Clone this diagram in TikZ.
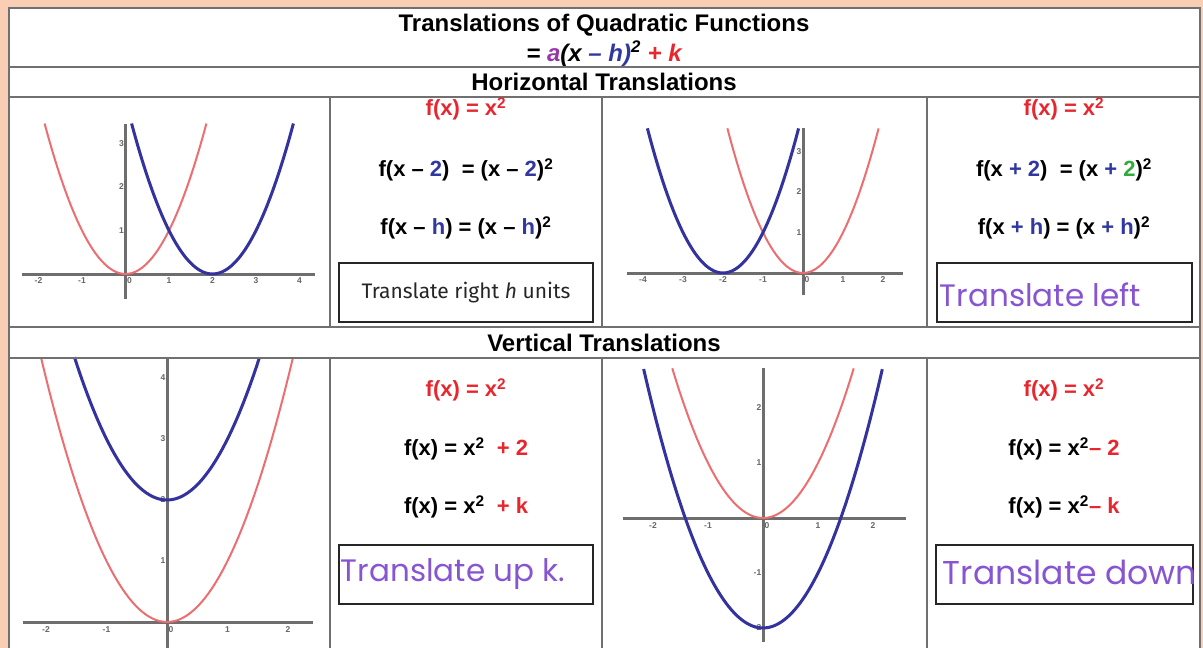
\documentclass[tikz,border=0pt]{standalone}
\usepackage{xcolor}
\usepackage{fontspec}
\setmainfont{Liberation Sans}
\newfontfamily\boxfont{Fira Sans}
\newfontfamily\handfont{Poppins}
\usepackage{tikz}
\usetikzlibrary{positioning}
\definecolor{peach}{RGB}{250,206,180}
\definecolor{gridgray}{RGB}{112,112,112}
\definecolor{axisgray}{RGB}{110,110,110}
\definecolor{fred}{RGB}{232,38,45}
\definecolor{fblue}{RGB}{48,56,160}
\definecolor{fgreen}{RGB}{50,170,60}
\definecolor{fpurple}{RGB}{150,55,170}
\definecolor{handpurple}{RGB}{135,85,210}
\definecolor{curvered}{RGB}{236,110,112}
\definecolor{curveblue}{RGB}{52,50,158}
\newcommand{\sq}{\textsuperscript{2}}
\tikzset{
  gridline/.style={draw=gridgray, line width=2.4pt},
  heading/.style={font=\fontsize{24}{26}\selectfont\bfseries, inner sep=0pt},
  formula/.style={font=\fontsize{22}{24}\selectfont\bfseries, inner sep=0pt},
  notebox/.style={draw=black!85, line width=2.6pt, minimum width=254pt,
    minimum height=59pt, inner sep=0pt},
  typed/.style={font=\boxfont\fontsize{21}{24}\selectfont, text=black!85, inner sep=0pt},
  hand/.style={font=\handfont\fontsize{31}{34}\selectfont, text=handpurple, inner sep=0pt},
  axisline/.style={draw=axisgray, line width=3pt},
  ticklbl/.style={font=\fontsize{8.5}{9}\selectfont\bfseries, text=black!60, inner sep=1.5pt},
  redcurve/.style={draw=curvered, line width=2pt, samples=60, smooth},
  bluecurve/.style={draw=curveblue, line width=3pt, samples=60, smooth}
}

\begin{document}
\begin{tikzpicture}[x=1pt, y=-1pt]
  \useasboundingbox (0,0) rectangle (1203,648);
  \fill[peach] (0,0) rectangle (1203,648);
  \fill[white] (9,8) rectangle (1200,660);

  % graph origins
  \coordinate (og1) at (125.5,274);
  \coordinate (og2) at (803,273);
  \coordinate (og3) at (167,622);
  \coordinate (og4) at (763,518);

  % axes
  \draw[axisline] (22,274) -- (315,274);
  \draw[axisline] (125.5,124) -- (125.5,299);
  \draw[axisline] (627,273) -- (903,273);
  \draw[axisline] (803,128) -- (803,295);
  \draw[axisline] (23,622) -- (313,622);
  \draw[axisline] (167,358) -- (167,660);
  \draw[axisline] (623,518) -- (906,518);
  \draw[axisline] (763,368) -- (763,642);

  % horizontal translations: graphs
  \begin{scope}[shift={(og1)}, x=43.5pt, y=43.5pt]
    \foreach \t in {-2,-1,1,2,3,4} \node[ticklbl, below] at (\t,-0.05) {\t};
    \node[ticklbl, below right] at (0,-0.05) {0};
    \foreach \t in {1,2,3} \node[ticklbl, left] at (0,\t) {\t};
    \draw[redcurve, domain=-1.86:1.86] plot (\x,{\x*\x});
    \draw[bluecurve, domain=0.14:3.86] plot (\x,{(\x-2)*(\x-2)});
  \end{scope}
  \begin{scope}[shift={(og2)}, x=40pt, y=40.5pt]
    \foreach \t in {-4,-3,-2,-1,1,2} \node[ticklbl, below] at (\t,-0.05) {\t};
    \node[ticklbl, below right] at (0,-0.05) {0};
    \foreach \t in {1,2,3} \node[ticklbl, left] at (0,\t) {\t};
    \draw[redcurve, domain=-1.89:1.89] plot (\x,{\x*\x});
    \draw[bluecurve, domain=-3.89:-0.11] plot (\x,{(\x+2)*(\x+2)});
  \end{scope}

  % vertical translations: graphs
  \begin{scope}[shift={(og3)}, x=60.5pt, y=61pt]
    \foreach \t in {-2,-1,1,2} \node[ticklbl, below] at (\t,-0.05) {\t};
    \node[ticklbl, below right] at (0,-0.05) {0};
    \foreach \t in {1,2,3,4} \node[ticklbl, left] at (0,\t) {\t};
    \draw[redcurve, domain=-2.08:2.08] plot (\x,{\x*\x});
    \draw[bluecurve, domain=-1.53:1.53] plot (\x,{\x*\x+2});
  \end{scope}
  \begin{scope}[shift={(og4)}, x=55pt, y=55pt]
    \foreach \t in {-2,-1,1,2} \node[ticklbl, below] at (\t,-0.05) {\t};
    \node[ticklbl, below right] at (0,-0.05) {0};
    \foreach \t in {-2,-1,1,2} \node[ticklbl, left] at (0,\t) {\t};
    \draw[redcurve, domain=-1.65:1.65] plot (\x,{\x*\x});
    \draw[bluecurve, domain=-2.17:2.17] plot (\x,{\x*\x-2});
  \end{scope}

  % table rules
  \draw[gridline] (9,660) -- (9,8) -- (1200,8) -- (1200,660);
  \foreach \ry in {67,97,327,358} \draw[gridline] (9,\ry) -- (1200,\ry);
  \foreach \cx in {330,602,927} {
    \draw[gridline] (\cx,97) -- (\cx,327);
    \draw[gridline] (\cx,358) -- (\cx,660);
  }

  % headings
  \node[heading] (title) at (604,25) {Translations of Quadratic Functions};
  \node[heading, below=4pt of title, font=\fontsize{24}{26}\selectfont\bfseries\itshape] (vertexform)
    {= \textcolor{fpurple}{a}(x \textcolor{fblue}{– h)}\sq{} \textcolor{fred}{+ k}};
  \node[heading] (horiz) at (604,82) {Horizontal Translations};
  \node[heading] (vert) at (604,342.5) {Vertical Translations};

  % shift right
  \node[formula, text=fred] (rparent) at (466,109) {f(x) = x\sq};
  \node[formula] (rtwo) at (466,170) {f(x – \textcolor{fblue}{2})\ \ = (x – \textcolor{fblue}{2})\sq};
  \node[formula] (rh) at (466,228) {f(x – \textcolor{fblue}{h}) = (x – \textcolor{fblue}{h})\sq};
  \node[notebox] (rightbox) at (466,292.5) {};
  \node[typed] (righttxt) at (rightbox.center) {Translate right \textit{h} units};

  % shift left
  \node[formula, text=fred] (lparent) at (1064,109) {f(x) = x\sq};
  \node[formula] (ltwo) at (1064,170) {f(x \textcolor{fblue}{+ 2})\ \ = (x \textcolor{fblue}{+} \textcolor{fgreen}{2})\sq};
  \node[formula] (lh) at (1064,228) {f(x \textcolor{fblue}{+ h}) = (x \textcolor{fblue}{+ h})\sq};
  \node[notebox, minimum width=255pt] (leftbox) at (1064.5,292.5) {};
  \node[hand, anchor=west] (lefttxt) at ([xshift=4pt, yshift=-2pt]leftbox.west) {Translate left};

  % shift up
  \node[formula, text=fred] (uparent) at (466,390) {f(x) = x\sq};
  \node[formula] (utwo) at (466,449) {f(x) = x\sq\ \ \textcolor{fred}{+ 2}};
  \node[formula] (uk) at (466,507) {f(x) = x\sq\ \ \textcolor{fred}{+ k}};
  \node[notebox] (upbox) at (466,574.5) {};
  \node[hand, anchor=west] (uptxt) at ([xshift=3pt]upbox.west) {Translate up k.};

  % shift down
  \node[formula, text=fred] (dparent) at (1064,390) {f(x) = x\sq};
  \node[formula] (dtwo) at (1064,449) {f(x) = x\sq\textcolor{fred}{– 2}};
  \node[formula] (dk) at (1064,507) {f(x) = x\sq\textcolor{fred}{– k}};
  \node[notebox, minimum width=257pt] (downbox) at (1064.5,574.5) {};
  \node[hand, anchor=west, font=\handfont\fontsize{33}{36}\selectfont] (downtxt)
    at ([xshift=8pt, yshift=2pt]downbox.west) {Translate down};
\end{tikzpicture}
\end{document}
